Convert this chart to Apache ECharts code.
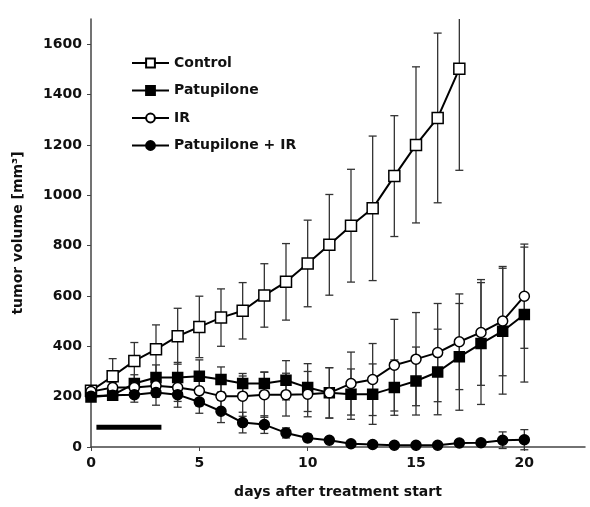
<!DOCTYPE html>
<html>
<head>
<meta charset="utf-8">
<script src="https://cdn.jsdelivr.net/npm/echarts@6/dist/echarts.min.js"></script>
<style>
  html, body { margin: 0; padding: 0; background: #fff; }
  #chart { width: 590px; height: 507px; }
</style>
</head>
<body>
<div id="chart"></div>
<script>
// days after treatment start
var days = [0, 1, 2, 3, 4, 5, 6, 7, 8, 9, 10, 11, 12, 13, 14, 15, 16, 17, 18, 19, 20];

// mean tumour volume (mm3) and error (+/-) per group
var control      = [223, 281, 342, 388, 440, 477, 514, 541, 602, 656, 729, 803, 879, 948, 1076, 1200, 1307, 1502];
var controlErr   = [15, 70, 73, 97, 111, 122, 114, 112, 126, 152, 172, 200, 224, 287, 240, 310, 337, 403];
var patupilone   = [199, 206, 252, 276, 276, 281, 268, 252, 252, 265, 236, 215, 210, 210, 236, 262, 298, 358, 411, 460, 526];
var patupiloneErr= [15, 20, 35, 50, 60, 65, 50, 40, 45, 78, 95, 100, 100, 120, 110, 135, 170, 212, 242, 250, 268];
var ir           = [220, 236, 236, 243, 236, 223, 202, 202, 208, 208, 210, 215, 252, 268, 325, 349, 375, 418, 455, 500, 599];
var irErr        = [15, 20, 30, 45, 55, 60, 70, 80, 90, 85, 90, 100, 125, 143, 182, 185, 195, 190, 210, 217, 207];
var patIr        = [202, 206, 208, 216, 208, 179, 142, 97, 89, 56, 36, 27, 13, 10, 7, 7, 7, 16, 17, 27, 29];
var patIrErr     = [10, 20, 30, 50, 50, 45, 45, 41, 35, 20, 15, 10, 5, 5, 5, 5, 5, 12, 12, 33, 40];

// black bar = treatment period
var treatmentBar = [[0.25, 78], [3.25, 78]];

var xTicks = [0, 5, 10, 15, 20];
var yTicks = [0, 200, 400, 600, 800, 1000, 1200, 1400, 1600];
var X_MAX = 22.8;
var Y_MAX = 1700;

var FONT = 'DejaVu Sans';

function pairs(vals) {
  return vals.map(function (v, i) { return [days[i], v]; });
}
function errData(vals, errs) {
  return vals.map(function (v, i) { return [days[i], v - errs[i], v + errs[i]]; });
}

// vertical line + caps, top clipped at the axis end
function errRender(params, api) {
  var x = api.value(0), lo = api.value(1), hi = api.value(2);
  var top = Math.min(hi, Y_MAX);
  var p0 = api.coord([x, lo]);
  var p1 = api.coord([x, top]);
  var st = { stroke: '#333', lineWidth: 1.3 };
  var w = 4;
  var kids = [
    { type: 'line', shape: { x1: p0[0], y1: p0[1], x2: p1[0], y2: p1[1] }, style: st },
    { type: 'line', shape: { x1: p0[0] - w, y1: p0[1], x2: p0[0] + w, y2: p0[1] }, style: st }
  ];
  if (hi <= Y_MAX) {
    kids.push({ type: 'line', shape: { x1: p1[0] - w, y1: p1[1], x2: p1[0] + w, y2: p1[1] }, style: st });
  }
  return { type: 'group', children: kids };
}

function errSeries(vals, errs) {
  return {
    type: 'custom',
    renderItem: errRender,
    data: errData(vals, errs),
    encode: { x: 0, y: [1, 2] },
    silent: true,
    z: 1
  };
}

function lineSeries(name, vals, symbol, size, fill) {
  return {
    name: name,
    type: 'line',
    data: pairs(vals),
    symbol: symbol,
    symbolSize: size,
    showAllSymbol: true,
    lineStyle: { color: '#000', width: 2 },
    itemStyle: { color: fill, borderColor: '#000', borderWidth: 1.5 },
    emphasis: { disabled: true },
    z: 3
  };
}

var myChart = echarts.init(document.getElementById('chart'));

var option = {
  animation: false,
  backgroundColor: '#fff',
  grid: { left: 91, right: 5, top: 19, bottom: 60 },
  legend: {
    data: ['Control', 'Patupilone', 'IR', 'Patupilone + IR'],
    orient: 'vertical',
    left: 126,
    top: 51,
    itemWidth: 37,
    itemHeight: 11,
    itemGap: 13.5,
    textStyle: { fontFamily: FONT, fontWeight: 'bold', fontSize: 14, color: '#111' }
  },
  xAxis: {
    type: 'value',
    min: 0,
    max: X_MAX,
    name: 'days after treatment start',
    nameLocation: 'middle',
    nameGap: 38,
    nameTextStyle: { fontFamily: FONT, fontWeight: 'bold', fontSize: 14, color: '#111' },
    splitLine: { show: false },
    axisLine: { lineStyle: { color: '#444', width: 1.5 } },
    axisTick: { customValues: xTicks, length: 4, lineStyle: { color: '#444' } },
    axisLabel: { customValues: xTicks, margin: 9, fontFamily: FONT, fontWeight: 'bold', fontSize: 14, color: '#111' }
  },
  yAxis: {
    type: 'value',
    min: 0,
    max: Y_MAX,
    name: 'tumor volume [mm\u00b3]',
    nameLocation: 'middle',
    nameGap: 66,
    nameTextStyle: { fontFamily: FONT, fontWeight: 'bold', fontSize: 14, color: '#111' },
    splitLine: { show: false },
    axisLine: { show: true, lineStyle: { color: '#444', width: 1.5 } },
    axisTick: { show: true, customValues: yTicks, length: 4, lineStyle: { color: '#444' } },
    axisLabel: {
      customValues: yTicks, margin: 9,
      formatter: function (v) { return String(v); },
      fontFamily: FONT, fontWeight: 'bold', fontSize: 14, color: '#111'
    }
  },
  series: [
    errSeries(control, controlErr),
    errSeries(patupilone, patupiloneErr),
    errSeries(ir, irErr),
    errSeries(patIr, patIrErr),
    lineSeries('Control', control, 'rect', 11, '#fff'),
    lineSeries('Patupilone', patupilone, 'rect', 10, '#000'),
    lineSeries('IR', ir, 'circle', 10, '#fff'),
    lineSeries('Patupilone + IR', patIr, 'circle', 10, '#000'),
    {
      type: 'line',
      data: treatmentBar,
      symbol: 'none',
      silent: true,
      lineStyle: { color: '#000', width: 5 },
      z: 2
    }
  ]
};

myChart.setOption(option);
</script>
</body>
</html>
